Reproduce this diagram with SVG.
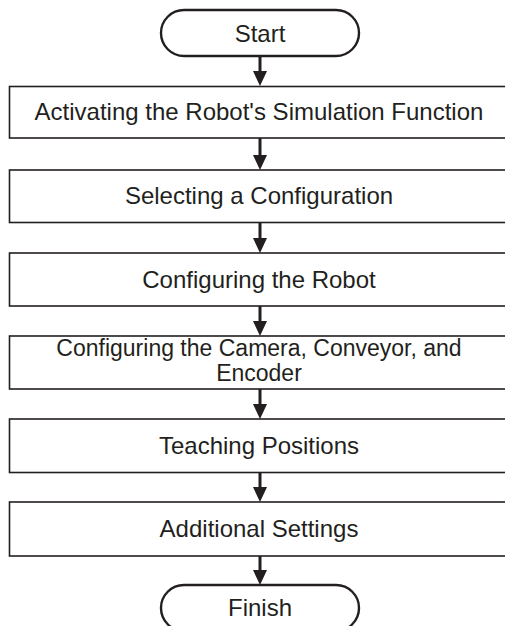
<svg xmlns="http://www.w3.org/2000/svg" width="505" height="626" viewBox="0 0 505 626">
<style>
.box{fill:#fff;stroke:#231f20;stroke-width:1.6}
.term{fill:#fff;stroke:#231f20;stroke-width:2.4}
.lbl{font-family:"Liberation Sans",Arial,sans-serif;font-size:24px;fill:#231f20;text-anchor:middle}
.lbl2{font-size:23px}
.conn{stroke:#231f20;stroke-width:3;fill:none}
</style>
<defs>
<marker id="arr" markerUnits="userSpaceOnUse" markerWidth="16" markerHeight="16" viewBox="0 -8 16 16" refX="11" refY="0" orient="auto">
<path d="M0,-7 L15,0 L0,7 Z" fill="#231f20"/>
</marker>
</defs>
<rect width="505" height="626" fill="#fff"/>
<g id="connectors">
<line class="conn" x1="260" y1="56" x2="260" y2="82" marker-end="url(#arr)"/>
<line class="conn" x1="260" y1="138" x2="260" y2="166" marker-end="url(#arr)"/>
<line class="conn" x1="260" y1="222" x2="260" y2="249" marker-end="url(#arr)"/>
<line class="conn" x1="260" y1="306" x2="260" y2="332" marker-end="url(#arr)"/>
<line class="conn" x1="260" y1="389" x2="260" y2="415" marker-end="url(#arr)"/>
<line class="conn" x1="260" y1="472" x2="260" y2="498" marker-end="url(#arr)"/>
<line class="conn" x1="260" y1="556" x2="260" y2="581" marker-end="url(#arr)"/>
</g>
<g id="start">
<rect class="term" x="161" y="10" width="198" height="46" rx="23" ry="23"/>
<text class="lbl" x="260" y="42">Start</text>
</g>
<g id="step1">
<rect class="box" x="9.5" y="86.5" width="510" height="51.5"/>
<text class="lbl" x="259" y="120">Activating the Robot's Simulation Function</text>
</g>
<g id="step2">
<rect class="box" x="9.5" y="170" width="510" height="52.5"/>
<text class="lbl" x="259" y="204">Selecting a Configuration</text>
</g>
<g id="step3">
<rect class="box" x="9.5" y="253" width="510" height="53"/>
<text class="lbl" x="259" y="288">Configuring the Robot</text>
</g>
<g id="step4">
<rect class="box" x="9.5" y="336" width="510" height="53"/>
<text class="lbl lbl2" x="259" y="355.5">Configuring the Camera, Conveyor, and</text>
<text class="lbl lbl2" x="259" y="381">Encoder</text>
</g>
<g id="step5">
<rect class="box" x="9.5" y="419" width="510" height="53.5"/>
<text class="lbl" x="259" y="454">Teaching Positions</text>
</g>
<g id="step6">
<rect class="box" x="9.5" y="502" width="510" height="54"/>
<text class="lbl" x="259" y="537">Additional Settings</text>
</g>
<g id="finish">
<rect class="term" x="161" y="585" width="198" height="46" rx="23" ry="23"/>
<text class="lbl" x="260" y="616">Finish</text>
</g>
</svg>
